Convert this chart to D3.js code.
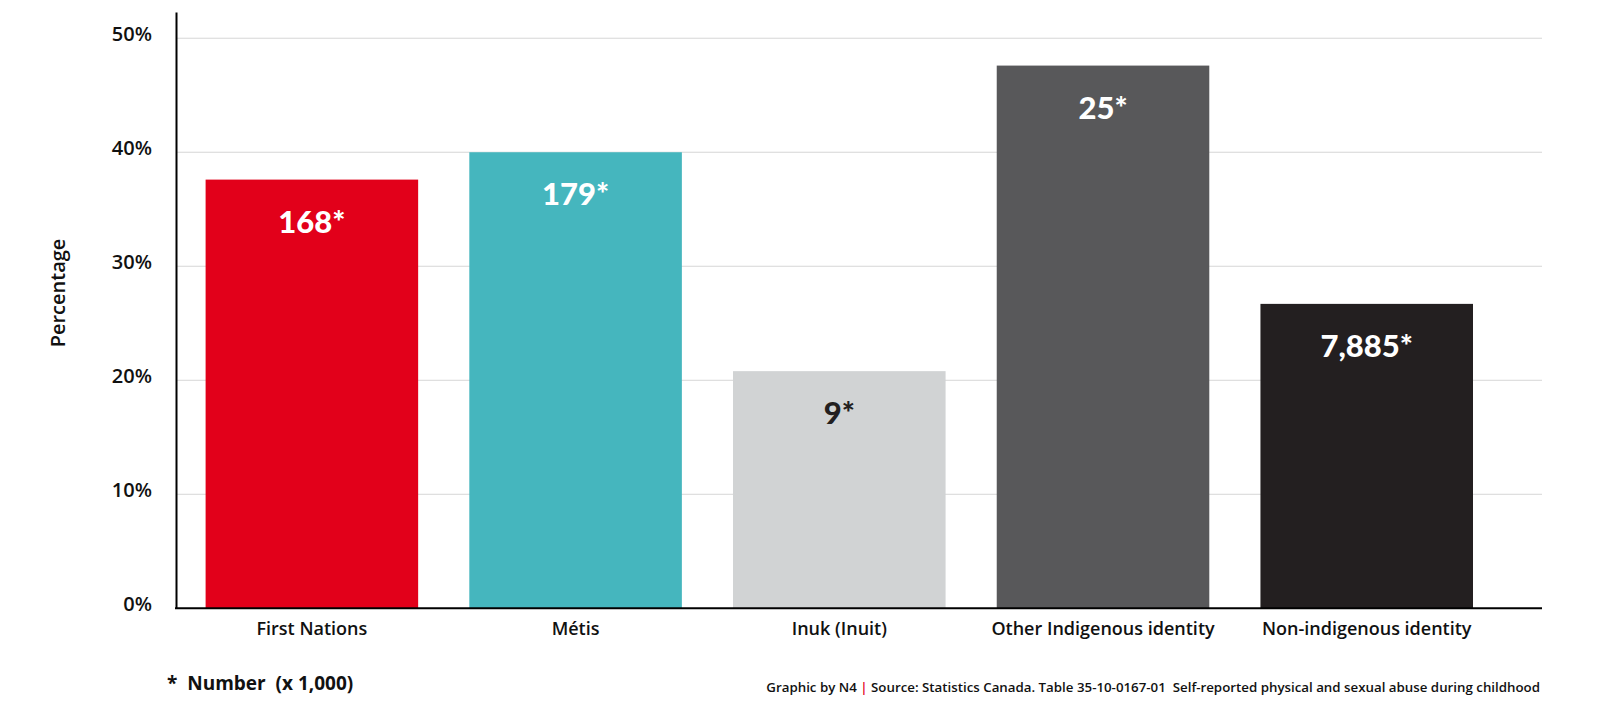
<!DOCTYPE html>
<html>
<head>
<meta charset="utf-8">
<script src="https://cdn.jsdelivr.net/npm/d3@7"></script>
<style>
  html, body { margin: 0; padding: 0; background: #fff; }
  svg { display: block; font-family: "Open Sans", Lato, sans-serif; }
</style>
</head>
<body>
<svg id="chart" width="1600" height="716"></svg>
<script>
const categories = ["First Nations", "Métis", "Inuk (Inuit)", "Other Indigenous identity", "Non-indigenous identity"];
const percentages = [37.6, 40.0, 20.8, 47.6, 26.7];
const numberLabels = ["168*", "179*", "9*", "25*", "7,885*"];
const barColors = ["#E2001A", "#45B6BE", "#D1D3D4", "#58585A", "#231F20"];
const labelColors = ["#ffffff", "#ffffff", "#231F20", "#ffffff", "#ffffff"];
const yTickValues = [0, 10, 20, 30, 40, 50];

const svg = d3.select("#chart");
const axisLeft = 176, axisRight = 1542, yBottom = 608.3;
const textFont = "'Open Sans', sans-serif";

const y = d3.scaleLinear().domain([0, 52.3]).range([yBottom, 12]);
const x = d3.scaleBand().domain(categories).range([205.6, 1473]).paddingInner(0.194).paddingOuter(0);

// gridlines
svg.append("g").selectAll("line").data(yTickValues.filter(d => d > 0)).join("line")
  .attr("x1", axisLeft).attr("x2", axisRight)
  .attr("y1", d => y(d)).attr("y2", d => y(d))
  .attr("stroke", "#d6d6d6").attr("stroke-width", 1);

// bars
const data = categories.map((c, i) => ({c, v: percentages[i], lab: numberLabels[i], col: barColors[i], lc: labelColors[i]}));
svg.append("g").selectAll("rect").data(data).join("rect")
  .attr("x", d => x(d.c)).attr("width", x.bandwidth())
  .attr("y", d => y(d.v)).attr("height", d => yBottom - y(d.v))
  .attr("fill", d => d.col);

// bar labels
svg.append("g").selectAll("text").data(data).join("text")
  .attr("x", d => x(d.c) + x.bandwidth() / 2)
  .attr("y", d => y(d.v) + 53)
  .attr("text-anchor", "middle")
  .attr("font-family", "Lato, sans-serif")
  .attr("font-size", 31).attr("font-weight", 900)
  .attr("fill", d => d.lc)
  .text(d => d.lab);

// y axis
const yAxis = d3.axisLeft(y).tickValues(yTickValues).tickFormat(d => d + "%").tickSize(0).tickPadding(24);
const gy = svg.append("g").attr("transform", `translate(${axisLeft},0)`).call(yAxis);
gy.select(".domain").attr("stroke", "#000").attr("stroke-width", 2);
gy.selectAll("text").attr("font-size", 20).attr("font-weight", 600).attr("fill", "#111")
  .attr("font-family", textFont).attr("dy", "0.1em");

// x axis
const xAxis = d3.axisBottom(x).tickSize(0).tickPadding(14);
const gx = svg.append("g").attr("transform", `translate(0,${yBottom})`).call(xAxis);
gx.select(".domain").remove();
svg.append("line").attr("x1", axisLeft - 1).attr("x2", axisRight).attr("y1", yBottom).attr("y2", yBottom)
  .attr("stroke", "#000").attr("stroke-width", 2);
gx.selectAll("text").attr("font-size", 18).attr("font-weight", 600).attr("fill", "#111")
  .attr("font-family", textFont);

// y title
svg.append("text").attr("transform", "translate(65,293) rotate(-90)")
  .attr("text-anchor", "middle").attr("font-size", 20).attr("font-weight", 600).attr("fill", "#111")
  .attr("font-family", textFont)
  .text("Percentage");

// footnote
svg.append("text").attr("x", 167).attr("y", 690).attr("font-size", 19).attr("font-weight", 700)
  .attr("fill", "#111").attr("font-family", textFont).style("white-space", "pre")
  .text("*  Number  (x 1,000)");

// source
const src = svg.append("text").attr("x", 1540).attr("y", 692).attr("text-anchor", "end")
  .attr("font-size", 13.3).attr("font-weight", 600).attr("fill", "#111")
  .attr("font-family", textFont).style("white-space", "pre");
src.append("tspan").text("Graphic by N4 ");
src.append("tspan").attr("fill", "#E2001A").text("|");
src.append("tspan").text(" Source: Statistics Canada. Table 35-10-0167-01  Self-reported physical and sexual abuse during childhood");
</script>
</body>
</html>
